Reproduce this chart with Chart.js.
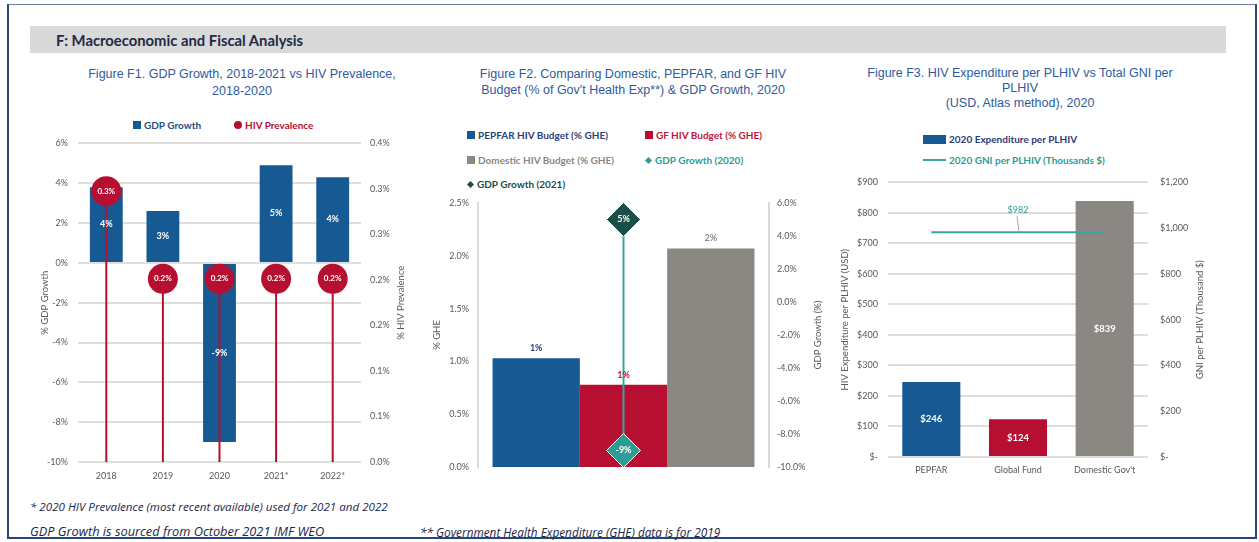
<!DOCTYPE html>
<html lang="en">
<head>
<meta charset="utf-8">
<title>F: Macroeconomic and Fiscal Analysis</title>
<script src="https://cdn.jsdelivr.net/npm/chart.js@4.4.1/dist/chart.umd.min.js"></script>
<style>
    body { margin: 0; background: #fff; font-family: Lato, "Liberation Sans", sans-serif; }
    #page { position: relative; width: 1259px; height: 542px; overflow: hidden; }
    .frame { position: absolute; left: 7px; top: 4px; width: 1246px; height: 532px; border: 2px solid #27457d; border-top: 1px solid #6d7fa0; }
    .header { position: absolute; left: 30px; top: 26px; width: 1196px; height: 27px; background: #d9d9d9; }
    .header span { position: absolute; left: 26px; top: 5px; font: bold 14.8px Lato; color: #1f2a44; }
    .fig-title { position: absolute; text-align: center; color: #2f5b9e; font: 12.5px "Liberation Sans"; line-height: 17px; }
    .lg { position: absolute; display: flex; align-items: center; height: 12px; font: bold 10px Lato; white-space: nowrap; }
    .sw { display: inline-block; margin-right: 3px; }
    .sq { width: 8px; height: 8px; }
    .dot { width: 8px; height: 8px; border-radius: 50%; }
    .dia { width: 5px; height: 5px; transform: rotate(45deg); margin: 0 4px 0 1px; }
    .bar { width: 23px; height: 9px; }
    .ln { width: 23px; height: 2px; }
    canvas { position: absolute; }
    .note { position: absolute; font-family: "Open Sans"; font-style: italic; color: #1b2745; white-space: nowrap; }
</style>
</head>
<body>
<div id="page">
    <div class="frame"></div>
    <div class="header"><span>F: Macroeconomic and Fiscal Analysis</span></div>

    <!-- F1 -->
    <div class="fig-title" style="left:42px; top:66px; width:400px;">Figure F1. GDP Growth, 2018-2021 vs HIV Prevalence,<br>2018-2020</div>
    <div class="lg" style="left:133px; top:119px; color:#1f4e85;"><i class="sw sq" style="background:#175a93"></i>GDP Growth</div>
    <div class="lg" style="left:234px; top:119px; color:#b70f31;"><i class="sw dot" style="background:#b70f31"></i>HIV Prevalence</div>
    <canvas id="chartF1" width="390" height="360" style="left:30px; top:128px;"></canvas>

    <!-- F2 -->
    <div class="fig-title" style="left:433px; top:66px; width:400px; line-height:16px;">Figure F2. Comparing Domestic, PEPFAR, and GF HIV<br>Budget (% of Gov't Health Exp**) &amp; GDP Growth, 2020</div>
    <div class="lg" style="left:467px; top:129px; color:#2b3f7e;"><i class="sw sq" style="background:#175a93"></i>PEPFAR HIV Budget (% GHE)</div>
    <div class="lg" style="left:645px; top:129px; color:#c0143c;"><i class="sw sq" style="background:#b70f31"></i>GF HIV Budget (% GHE)</div>
    <div class="lg" style="left:467px; top:154px; color:#8b8782;"><i class="sw sq" style="background:#8b8782"></i>Domestic HIV Budget (% GHE)</div>
    <div class="lg" style="left:645px; top:154px; color:#2b9d96;"><i class="sw dia" style="background:#2b9d96"></i>GDP Growth (2020)</div>
    <div class="lg" style="left:467px; top:178px; color:#1b4e48;"><i class="sw dia" style="background:#1b4e48"></i>GDP Growth (2021)</div>
    <canvas id="chartF2" width="400" height="300" style="left:425px; top:185px;"></canvas>

    <!-- F3 -->
    <div class="fig-title" style="left:820px; top:66px; width:400px; line-height:15px;">Figure F3. HIV Expenditure per PLHIV vs Total GNI per<br>PLHIV<br>(USD, Atlas method), 2020</div>
    <div class="lg" style="left:923px; top:133px; color:#2b3a7a;"><i class="sw bar" style="background:#175a93"></i>2020 Expenditure per PLHIV</div>
    <div class="lg" style="left:923px; top:154px; color:#2b9d96;"><i class="sw ln" style="background:#3aa5a0"></i>2020 GNI per PLHIV (Thousands $)</div>
    <canvas id="chartF3" width="400" height="320" style="left:830px; top:165px;"></canvas>

    <div class="note" style="left:30px; top:499px; font-size:11.6px;">* 2020 HIV Prevalence (most recent available) used for 2021 and 2022</div>
    <div class="note" style="left:30px; top:522px; font-size:12.8px;">GDP Growth is sourced from October 2021 IMF WEO</div>
    <div class="note" style="left:420px; top:524px; font-size:11.8px;">** Government Health Expenditure (GHE) data is for 2019</div>
</div>

<script>
// F1 - crescimento do PIB x prevalência
const years = ['2018', '2019', '2020', '2021*', '2022*'];
const gdpGrowth = [3.8, 2.6, -9.0, 4.9, 4.3];
const hivPrevalence = [0.34, 0.23, 0.23, 0.23, 0.23];

// F2 - orçamento HIV (% GHE) e PIB 2020/2021
const budgetSources = ['PEPFAR HIV Budget (% GHE)', 'GF HIV Budget (% GHE)', 'Domestic HIV Budget (% GHE)'];
const budgetShare = [1.03, 0.78, 2.07];
const gdpGrowth2020 = [-9.0];
const gdpGrowth2021 = [5.0];

// F3 - gasto por PVHIV x RNB por PVHIV
const funders = ['PEPFAR', 'Global Fund', "Domestic Gov't"];
const spendPerPlhiv = [246, 124, 839];
const gniPerPlhiv = [982, 982, 982];

const BLUE = '#175a93', RED = '#b70f31', GRAY = '#8b8782';
const TEAL = '#3aa5a0', TEAL_DARK = '#2b9d96', GREEN_DARK = '#1b4e48';
const TICK = '#595959', GRID = '#dedede';
const tickFont = { family: 'Lato', size: 9 };

Chart.defaults.font.family = 'Lato';
Chart.defaults.color = TICK;

// rótulos de valor por dataset
const valueLabels = {
    id: 'valueLabels',
    afterDatasetsDraw(chart) {
        const ctx = chart.ctx;
        chart.data.datasets.forEach((ds, i) => {
            const cfg = ds.valueLabel;
            if (!cfg) return;
            chart.getDatasetMeta(i).data.forEach((el, j) => {
                if (cfg.index !== undefined && cfg.index !== j) return;
                let y = el.y;
                if (cfg.position === 'center') y = (el.y + el.base) / 2;
                else if (cfg.offset) y = el.y - cfg.offset;
                ctx.save();
                if (cfg.leader) {
                    ctx.strokeStyle = '#a6a6a6';
                    ctx.lineWidth = 1;
                    ctx.beginPath();
                    ctx.moveTo(el.x - 1, y + 6);
                    ctx.lineTo(el.x + 1, el.y);
                    ctx.stroke();
                }
                ctx.font = cfg.font;
                ctx.fillStyle = cfg.color;
                ctx.textAlign = 'center';
                ctx.textBaseline = 'middle';
                ctx.fillText(cfg.format(ds.data[j]), el.x, y);
                ctx.restore();
            });
        });
    }
};

// títulos verticais dos eixos (lidos de baixo para cima nos dois lados)
const sideTitles = {
    id: 'sideTitles',
    afterDraw(chart, args, opts) {
        const { ctx, chartArea } = chart;
        const yc = (chartArea.top + chartArea.bottom) / 2;
        [opts.left, opts.right].forEach(t => {
            if (!t) return;
            ctx.save();
            ctx.font = '9.5px Lato';
            ctx.fillStyle = TICK;
            ctx.textAlign = 'center';
            ctx.textBaseline = 'middle';
            ctx.translate(t.x, yc);
            ctx.rotate(-Math.PI / 2);
            ctx.fillText(t.text, 0, 0);
            ctx.restore();
        });
    }
};

const baseOptions = {
    responsive: false,
    animation: false,
    events: [],
    plugins: { legend: { display: false }, tooltip: { enabled: false } }
};

const noGrid = { display: false, drawTicks: false };

function setupGdpChart() {
    new Chart(document.getElementById('chartF1'), {
        type: 'bar',
        data: {
            labels: years,
            datasets: [{
                type: 'line',
                label: 'HIV Prevalence',
                data: hivPrevalence,
                yAxisID: 'y1',
                showLine: false,
                pointStyle: 'circle',
                pointRadius: 15,
                pointBackgroundColor: RED,
                pointBorderWidth: 0,
                order: 0,
                valueLabel: { format: v => v.toFixed(1) + '%', color: '#fff', font: 'bold 8px Lato' }
            }, {
                label: 'drop',
                data: hivPrevalence,
                yAxisID: 'y1',
                grouped: false,
                maxBarThickness: 2,
                backgroundColor: RED,
                order: 1
            }, {
                label: 'GDP Growth',
                data: gdpGrowth,
                backgroundColor: BLUE,
                barPercentage: 0.58,
                categoryPercentage: 1,
                order: 2,
                valueLabel: { position: 'center', format: v => Math.round(v) + '%', color: '#fff', font: 'bold 9px Lato' }
            }]
        },
        options: {
            ...baseOptions,
            layout: { padding: { top: 11, bottom: 0, left: 0, right: 0 } },
            scales: {
                x: {
                    grid: noGrid,
                    border: { display: false },
                    ticks: { font: tickFont, padding: 9 },
                    afterFit: s => { s.height = 26; }
                },
                y: {
                    min: -10, max: 6,
                    ticks: { stepSize: 2, font: tickFont, padding: 10, callback: v => v + '%' },
                    grid: { color: GRID, lineWidth: 2, drawTicks: false },
                    border: { display: false },
                    afterFit: s => { s.width = 48; }
                },
                y1: {
                    position: 'right',
                    min: 0, max: 0.4,
                    ticks: { count: 8, font: tickFont, padding: 9, callback: v => v.toFixed(1) + '%' },
                    grid: noGrid,
                    border: { display: false },
                    afterFit: s => { s.width = 59; }
                }
            },
            plugins: {
                ...baseOptions.plugins,
                sideTitles: { left: { text: '% GDP Growth', x: 15 }, right: { text: '% HIV Prevalence', x: 371 } }
            }
        },
        plugins: [valueLabels, sideTitles]
    });
}

function setupBudgetChart() {
    const barColors = [BLUE, RED, GRAY];
    const labelColors = ['#2b3f7e', '#c0143c', GRAY];
    const bars = budgetSources.map((nome, i) => ({
        label: nome,
        data: [budgetShare[i]],
        backgroundColor: barColors[i],
        categoryPercentage: 0.9,
        barPercentage: 1,
        order: 2,
        valueLabel: { offset: 10, format: v => Math.round(v) + '%', color: labelColors[i], font: 'bold 9px Lato' }
    }));

    new Chart(document.getElementById('chartF2'), {
        type: 'bar',
        data: {
            labels: ['2020'],
            datasets: [{
                type: 'line',
                label: 'GDP Growth (2021)',
                data: gdpGrowth2021,
                yAxisID: 'y1',
                showLine: false,
                pointStyle: 'rectRot',
                pointRadius: 17,
                pointBackgroundColor: GREEN_DARK,
                pointBorderColor: '#fff',
                pointBorderWidth: 1,
                order: 0,
                valueLabel: { format: v => Math.round(v) + '%', color: '#fff', font: 'bold 9px Lato' }
            }, {
                type: 'line',
                label: 'GDP Growth (2020)',
                data: gdpGrowth2020,
                yAxisID: 'y1',
                showLine: false,
                pointStyle: 'rectRot',
                pointRadius: 17,
                pointBackgroundColor: TEAL_DARK,
                pointBorderColor: '#fff',
                pointBorderWidth: 1,
                order: 0,
                valueLabel: { format: v => Math.round(v) + '%', color: '#fff', font: 'bold 9px Lato' }
            }, {
                label: 'link',
                data: [[gdpGrowth2020[0], gdpGrowth2021[0]]],
                yAxisID: 'y1',
                grouped: false,
                maxBarThickness: 2,
                backgroundColor: TEAL,
                order: 1
            }, ...bars]
        },
        options: {
            ...baseOptions,
            layout: { padding: { top: 8, bottom: 9, left: 0, right: 0 } },
            scales: {
                x: { display: false },
                y: {
                    min: 0, max: 2.5,
                    ticks: { stepSize: 0.5, font: tickFont, padding: 9, callback: v => v.toFixed(1) + '%' },
                    grid: noGrid,
                    border: { display: true, color: '#d9d9d9', width: 2 },
                    afterFit: s => { s.width = 53; }
                },
                y1: {
                    position: 'right',
                    min: -10, max: 6,
                    ticks: { stepSize: 2, font: tickFont, padding: 8, callback: v => v.toFixed(1) + '%' },
                    grid: noGrid,
                    border: { display: true, color: '#d9d9d9', width: 2 },
                    afterFit: s => { s.width = 56; }
                }
            },
            plugins: {
                ...baseOptions.plugins,
                sideTitles: { left: { text: '% GHE', x: 12 }, right: { text: 'GDP Growth (%)', x: 393 } }
            }
        },
        plugins: [valueLabels, sideTitles]
    });
}

function setupSpendChart() {
    const dollar = v => v === 0 ? '$-' : '$' + v.toLocaleString('en-US');
    new Chart(document.getElementById('chartF3'), {
        type: 'bar',
        data: {
            labels: funders,
            datasets: [{
                type: 'line',
                label: '2020 GNI per PLHIV (Thousands $)',
                data: gniPerPlhiv,
                yAxisID: 'y1',
                borderColor: TEAL,
                borderWidth: 2,
                pointRadius: 0,
                order: 0,
                valueLabel: { index: 1, offset: 22, leader: true, format: v => '$' + v, color: TEAL_DARK, font: '9px Lato' }
            }, {
                label: '2020 Expenditure per PLHIV',
                data: spendPerPlhiv,
                backgroundColor: [BLUE, RED, GRAY],
                barPercentage: 0.67,
                categoryPercentage: 1,
                order: 1,
                valueLabel: { position: 'center', format: v => '$' + v, color: '#fff', font: 'bold 9.5px Lato' }
            }]
        },
        options: {
            ...baseOptions,
            layout: { padding: { top: 8, bottom: 0, left: 0, right: 0 } },
            scales: {
                x: {
                    grid: noGrid,
                    border: { display: false },
                    ticks: { font: tickFont, padding: 8 },
                    afterFit: s => { s.height = 28; }
                },
                y: {
                    min: 0, max: 900,
                    ticks: { stepSize: 100, font: tickFont, padding: 10, callback: dollar },
                    grid: { color: GRID, lineWidth: 2, drawTicks: false },
                    border: { display: false },
                    afterFit: s => { s.width = 58; }
                },
                y1: {
                    position: 'right',
                    min: 0, max: 1200,
                    ticks: { stepSize: 200, font: tickFont, padding: 12, callback: dollar },
                    grid: noGrid,
                    border: { display: false },
                    afterFit: s => { s.width = 82; }
                }
            },
            plugins: {
                ...baseOptions.plugins,
                sideTitles: { left: { text: 'HIV Expenditure per PLHIV (USD)', x: 15 }, right: { text: 'GNI per PLHIV (Thousand $)', x: 370 } }
            }
        },
        plugins: [valueLabels, sideTitles]
    });
}

document.addEventListener('DOMContentLoaded', function() {
    setupGdpChart();
    setupBudgetChart();
    setupSpendChart();
});
</script>
</body>
</html>
